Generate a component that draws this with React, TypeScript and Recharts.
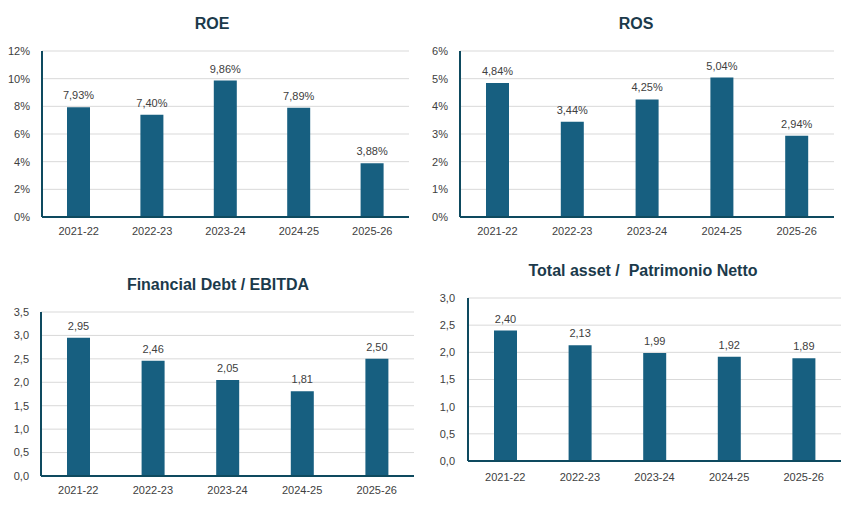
import React from 'react';
import { BarChart, Bar, XAxis, YAxis, CartesianGrid, LabelList } from 'recharts';

const years = ['2021-22', '2022-23', '2023-24', '2024-25', '2025-26'];
const roe = [7.93, 7.4, 9.86, 7.89, 3.88];
const ros = [4.84, 3.44, 4.25, 5.04, 2.94];
const debtEbitda = [2.95, 2.46, 2.05, 1.81, 2.5];
const assetEquity = [2.4, 2.13, 1.99, 1.92, 1.89];

const roeTicks = [0, 2, 4, 6, 8, 10, 12];
const rosTicks = [0, 1, 2, 3, 4, 5, 6];
const debtTicks = [0, 0.5, 1, 1.5, 2, 2.5, 3, 3.5];
const assetTicks = [0, 0.5, 1, 1.5, 2, 2.5, 3];

const BAR = '#175F80';
const AXIS = '#0E4A5F';
const TEXT = '#404040';
const TITLE = '#1B3A4B';
const FONT = '"Liberation Sans", Arial, sans-serif';

const pct = (v: number) => `${Math.round(v)}%`;
const pct2 = (v: number) => `${v.toFixed(2).replace('.', ',')}%`;
const dec1 = (v: number) => v.toFixed(1).replace('.', ',');
const dec2 = (v: number) => v.toFixed(2).replace('.', ',');

interface PanelProps {
  title: string;
  titleX: number;
  titleY: number;
  left: number;
  top: number;
  width: number;
  height: number;
  margin: { top: number; right: number; left: number; bottom: number };
  xAxisHeight: number;
  xTickMargin: number;
  yTickMargin: number;
  values: number[];
  ticks: number[];
  tickFmt: (v: number) => string;
  labelFmt: (v: number) => string;
}

function Panel(p: PanelProps) {
  const data = years.map((y, i) => ({ year: y, value: p.values[i] }));
  const max = p.ticks[p.ticks.length - 1];
  return (
    <>
      <div
        style={{
          position: 'absolute',
          left: p.titleX - 200,
          top: p.titleY - 10,
          width: 400,
          height: 20,
          lineHeight: '20px',
          textAlign: 'center',
          fontFamily: FONT,
          fontWeight: 700,
          fontSize: 16,
          color: TITLE,
          whiteSpace: 'pre',
        }}
      >
        {p.title}
      </div>
      <div style={{ position: 'absolute', left: p.left, top: p.top }}>
        <BarChart width={p.width} height={p.height} data={data} margin={p.margin}>
          <CartesianGrid vertical={false} stroke="#D9D9D9" strokeWidth={1} />
          <XAxis
            dataKey="year"
            height={p.xAxisHeight}
            tickLine={false}
            tickSize={0}
            tickMargin={p.xTickMargin}
            axisLine={{ stroke: AXIS, strokeWidth: 2 }}
            tick={{ fill: TEXT, fontSize: 11, fontFamily: FONT }}
            interval={0}
          />
          <YAxis
            width={28}
            domain={[0, max]}
            ticks={p.ticks}
            tickFormatter={p.tickFmt}
            tickLine={false}
            tickSize={0}
            tickMargin={p.yTickMargin}
            axisLine={{ stroke: AXIS, strokeWidth: 2 }}
            tick={{ fill: TEXT, fontSize: 11, fontFamily: FONT }}
            interval={0}
          />
          <Bar dataKey="value" fill={BAR} barSize={23} isAnimationActive={false}>
            <LabelList
              dataKey="value"
              position="top"
              offset={8}
              formatter={(v: any) => p.labelFmt(Number(v))}
              style={{ fill: TEXT, fontSize: 11, fontFamily: FONT }}
            />
          </Bar>
        </BarChart>
      </div>
    </>
  );
}

export default function App() {
  return (
    <div style={{ position: 'absolute', left: 0, top: 0, width: 857, height: 520, background: '#fff' }}>
      <Panel
        title="ROE"
        titleX={212}
        titleY={24}
        left={0}
        top={0}
        width={428}
        height={250}
        margin={{ top: 51, right: 19, left: 14, bottom: 0 }}
        xAxisHeight={33}
        xTickMargin={10}
        yTickMargin={12}
        values={roe}
        ticks={roeTicks}
        tickFmt={pct}
        labelFmt={pct2}
      />
      <Panel
        title="ROS"
        titleX={636}
        titleY={24}
        left={420}
        top={0}
        width={437}
        height={250}
        margin={{ top: 51, right: 23, left: 12, bottom: 0 }}
        xAxisHeight={33}
        xTickMargin={10}
        yTickMargin={12}
        values={ros}
        ticks={rosTicks}
        tickFmt={pct}
        labelFmt={pct2}
      />
      <Panel
        title="Financial Debt / EBITDA"
        titleX={218}
        titleY={285}
        left={0}
        top={260}
        width={428}
        height={250}
        margin={{ top: 52, right: 14, left: 13, bottom: 0 }}
        xAxisHeight={34}
        xTickMargin={10}
        yTickMargin={12}
        values={debtEbitda}
        ticks={debtTicks}
        tickFmt={dec1}
        labelFmt={dec2}
      />
      <Panel
        title="Total asset /  Patrimonio Netto"
        titleX={643}
        titleY={271}
        left={420}
        top={250}
        width={437}
        height={245}
        margin={{ top: 48, right: 16, left: 20, bottom: 0 }}
        xAxisHeight={34}
        xTickMargin={12}
        yTickMargin={13}
        values={assetEquity}
        ticks={assetTicks}
        tickFmt={dec1}
        labelFmt={dec2}
      />
    </div>
  );
}
